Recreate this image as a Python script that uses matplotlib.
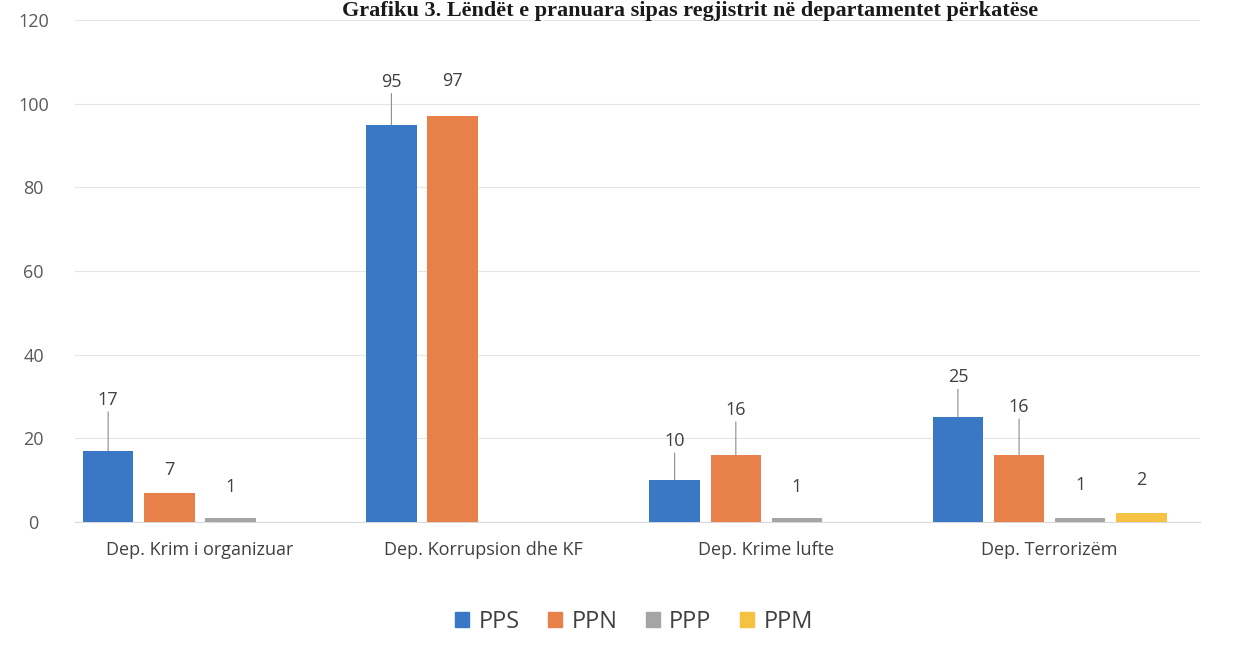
import matplotlib
matplotlib.use("Agg")
import matplotlib.pyplot as plt
import numpy as np

categories = ["Dep. Krim i organizuar", "Dep. Korrupsion dhe KF", "Dep. Krime lufte", "Dep. Terrorizëm"]
series_names = ["PPS", "PPN", "PPP", "PPM"]
pps = [17, 95, 10, 25]
ppn = [7, 97, 16, 16]
ppp = [1, None, 1, 1]
ppm = [None, None, None, 2]
yticks = [0, 20, 40, 60, 80, 100, 120]
title = "Grafiku 3. Lëndët e pranuara sipas regjistrit në departamentet përkatëse"

colors = ["#3a78c6", "#e8804a", "#a5a5a5", "#f5c242"]
# label offsets above bar top (pixels), and whether a leader line is drawn
label_offsets = {
    "PPS": [42, 34, 30, 31],
    "PPN": [14, 26, 36, 39],
    "PPP": [22, 0, 22, 24],
    "PPM": [0, 0, 0, 24],
}
leader = {
    "PPS": [True, True, True, True],
    "PPN": [False, False, True, True],
    "PPP": [False, False, False, False],
    "PPM": [False, False, False, False],
}

plt.rcParams['font.family'] = ['Open Sans', 'DejaVu Sans']
fig = plt.figure(figsize=(12.55, 6.69), dpi=100)
ax = fig.add_axes([0.06, 0.22, 0.896, 0.75])

x = np.arange(len(categories))
slot = 0.216
width = 0.178
all_series = [pps, ppn, ppp, ppm]
for i, (name, vals, col) in enumerate(zip(series_names, all_series, colors)):
    offs = (i - 1.5) * slot
    for j, v in enumerate(vals):
        if v is None:
            continue
        xx = x[j] + offs
        ax.bar(xx, v, width=width, color=col, zorder=3)
        off_px = label_offsets[name][j]
        ax.annotate(str(v), xy=(xx, v), xytext=(0, off_px * 0.72), textcoords='offset points',
                    ha='center', va='bottom', fontsize=13, color='#404040', zorder=4)
        if leader[name][j]:
            ax.annotate("", xy=(xx, v), xytext=(0, (off_px - 3) * 0.72), textcoords='offset points',
                        arrowprops=dict(arrowstyle='-', color='#8c8c8c', lw=0.8, shrinkA=0, shrinkB=0))

ax.set_xlim(-0.44, 3.53)
ax.set_ylim(0, 120)
ax.set_yticks(yticks)
ax.set_yticklabels([str(t) for t in yticks], fontsize=13, color='#595959')
for lbl in ax.get_yticklabels():
    lbl.set_horizontalalignment('center')
ax.set_xticks(x)
ax.set_xticklabels(categories, fontsize=13, color='#404040')
ax.tick_params(axis='both', length=0)
ax.tick_params(axis='x', pad=14)
ax.tick_params(axis='y', pad=30)
ax.yaxis.grid(True, color='#e6e6e6', lw=0.8, zorder=0)
ax.set_axisbelow(True)
for s in ['top', 'right', 'left']:
    ax.spines[s].set_visible(False)
ax.spines['bottom'].set_color('#d9d9d9')

handles = [plt.Rectangle((0, 0), 1, 1, color=c) for c in colors]
fig.legend(handles, series_names, loc='center', bbox_to_anchor=(0.505, 0.07), ncol=4,
           frameon=False, fontsize=17, handlelength=0.6, handleheight=0.6, handletextpad=0.4,
           columnspacing=1.2, labelcolor='#404040')

fig.text(0.55, 0.999, title, ha='center', va='top', fontsize=16, fontweight='bold',
         family=['Liberation Serif', 'DejaVu Serif'], color='#1a1a1a')

fig.savefig("out.png", dpi=100)
